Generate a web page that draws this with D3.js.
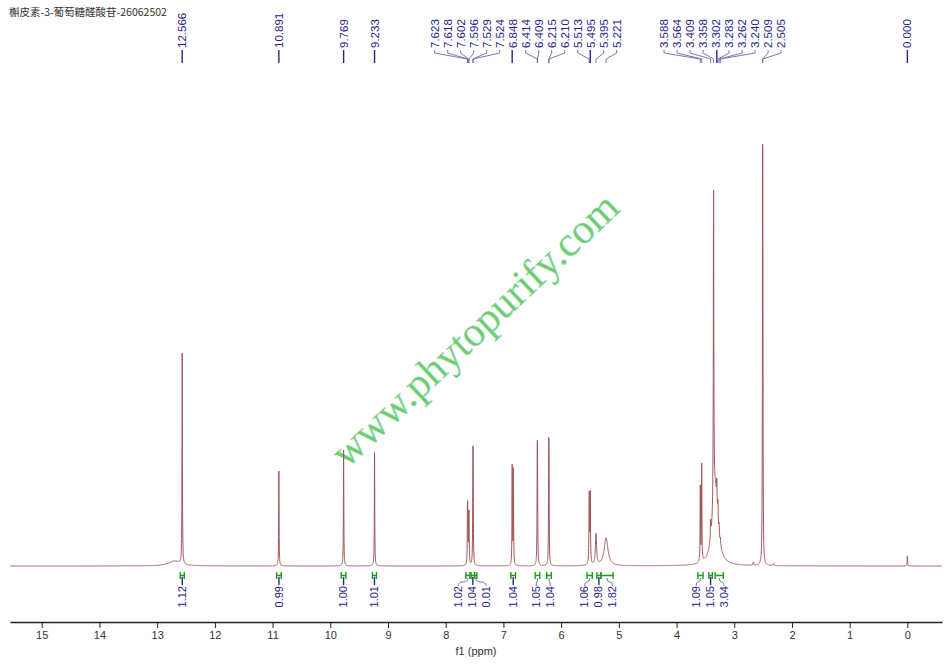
<!DOCTYPE html>
<html><head><meta charset="utf-8">
<script src="https://cdn.jsdelivr.net/npm/d3@7"></script>
<style>body{margin:0;background:#fff}svg{display:block}</style>
</head><body>
<script>
// ---------- data ----------
const title = "槲皮素-3-葡萄糖醛酸苷-26062502";
// labelled peak positions (ppm)
const peakLabels = [12.566, 10.891, 9.769, 9.233, 7.623, 7.618, 7.602, 7.596, 7.529, 7.524,
  6.848, 6.414, 6.409, 6.215, 6.210, 5.513, 5.495, 5.395, 5.221,
  3.588, 3.564, 3.409, 3.358, 3.302, 3.283, 3.262, 3.240, 2.509, 2.505, 0.000];
// spectral lines: position (ppm), intensity, half width (ppm)
const linePpm    = [12.566, 12.70, 10.891, 9.769, 9.233, 7.623, 7.618, 7.602, 7.596, 7.529, 7.524,
  6.848, 6.827, 6.414, 6.409, 6.215, 6.210, 5.513, 5.495, 5.395, 5.221,
  3.588, 3.564, 3.409, 3.358, 3.33, 3.302, 3.283, 3.262, 3.240, 2.67, 2.509, 2.505, 2.32, 0.000];
const lineHeight = [214, 5, 95, 116, 115, 43, 43, 39, 39, 83, 83,
  100, 96, 87, 87, 89, 89, 70, 70, 31, 28,
  76, 98, 18, 313, 78, 22, 18, 10, 6, 3, 264, 264, 2, 10];
const lineWidth  = [0.004, 0.12, 0.004, 0.004, 0.004, 0.004, 0.004, 0.004, 0.004, 0.004, 0.004,
  0.004, 0.004, 0.004, 0.004, 0.004, 0.004, 0.005, 0.005, 0.012, 0.04,
  0.004, 0.004, 0.006, 0.005, 0.055, 0.005, 0.005, 0.005, 0.005, 0.008, 0.004, 0.004, 0.008, 0.004];
// integrals
const intFrom  = [12.60, 10.93, 9.81, 9.27, 7.65, 7.56, 7.50, 6.87, 6.45, 6.25, 5.55, 5.38, 5.31, 3.63, 3.44, 3.33];
const intTo    = [12.53, 10.85, 9.73, 9.20, 7.58, 7.50, 7.46, 6.79, 6.37, 6.17, 5.46, 5.31, 5.10, 3.54, 3.38, 3.19];
const intValue = [1.12, 0.99, 1.00, 1.01, 1.02, 1.04, 0.01, 1.04, 1.05, 1.04, 1.06, 0.98, 1.82, 1.09, 1.05, 3.04];
// axis
const majorTicks = d3.range(0, 16, 1);
const minorTicks = d3.range(-0.5, 15.6, 1);
const axisTitle = "f1 (ppm)";
const watermark = "www.phytopurify.com";

// ---------- layout ----------
const W = 950, H = 665;
const svg = d3.select("body").append("svg").attr("width", W).attr("height", H)
  .style("font-family", "'Liberation Sans', Arial, sans-serif");
const x = d3.scaleLinear().domain([15.55, -0.6]).range([10, 942]);
const y = d3.scaleLinear().domain([0, 423]).range([566, 143]);
const axisY = 622;

// watermark
svg.append("text").attr("transform", "translate(347,469) rotate(-43.3)")
  .attr("font-family", "'Liberation Serif', 'Times New Roman', serif")
  .attr("font-size", 42).attr("fill", "#6fcd6f").attr("stroke", "#9fe3c8").attr("stroke-width", 0.4)
  .text(watermark);

// title
svg.append("text").attr("x", 9).attr("y", 16).attr("font-size", 10.5)
  .attr("font-family", "'Noto Sans CJK SC', sans-serif").attr("fill", "#333").text(title);

// spectrum
const step = 0.0015;
const pts = d3.range(15.55, -0.6, -step).map(p => {
  let v = 0;
  for (let i = 0; i < linePpm.length; i++) {
    const d = (p - linePpm[i]) / lineWidth[i];
    v += lineHeight[i] / (1 + d * d);
  }
  return [p, v];
});
svg.append("path").datum(pts)
  .attr("d", d3.line().x(d => x(d[0])).y(d => y(d[1])))
  .attr("fill", "none").attr("stroke", "#a05656").attr("stroke-width", 1);

// label spreading (least squares with minimum gap, pool adjacent violators)
function spread(ideal, gap) {
  const yv = ideal.map((v, i) => v - gap * i);
  const blocks = [];
  yv.forEach((v, i) => {
    blocks.push({sum: v, n: 1, start: i});
    while (blocks.length > 1) {
      const b = blocks[blocks.length - 1], a = blocks[blocks.length - 2];
      if (a.sum / a.n > b.sum / b.n) { a.sum += b.sum; a.n += b.n; blocks.pop(); } else break;
    }
  });
  const out = [];
  blocks.forEach(b => { for (let k = 0; k < b.n; k++) out.push(b.sum / b.n + gap * (b.start + k)); });
  return out;
}

// peak labels
const labelColor = "#25258f";
const idealTop = peakLabels.map(p => x(p));
const posTop = spread(idealTop, 13);
const gTop = svg.append("g");
peakLabels.forEach((p, i) => {
  const lx = posTop[i], px = idealTop[i];
  gTop.append("text").attr("transform", `translate(${lx},48) rotate(-90)`)
    .attr("dy", "0.35em").attr("font-size", 11.5).attr("fill", labelColor)
    .text(d3.format(".3f")(p));
  gTop.append("path")
    .attr("d", Math.abs(lx - px) < 0.8 ? `M${px},50V63` : `M${lx},50V53L${px},59V63`)
    .attr("fill", "none").attr("stroke", Math.abs(lx - px) < 0.8 ? labelColor : "#6a6aaa")
    .attr("stroke-width", Math.abs(lx - px) < 0.8 ? 1.4 : 0.9);
});

// integrals
const gInt = svg.append("g");
const markC = intFrom.map((f, i) => (x(f) + x(intTo[i])) / 2);
const posInt = spread(markC, 14);
intValue.forEach((v, i) => {
  const x1 = x(intFrom[i]), x2 = x(intTo[i]);
  gInt.append("path").attr("d", `M${x1},572V579M${x1},575.5H${x2}M${x2},572V579`)
    .attr("fill", "none").attr("stroke", "#1f9a1f").attr("stroke-width", 1.4);
  const lx = posInt[i], mx = markC[i];
  const straight = Math.abs(lx - mx) < 0.8;
  gInt.append("path")
    .attr("d", straight ? `M${mx},577V585` : `M${mx},578Q${mx},582 ${(mx + lx) / 2},582Q${lx},582 ${lx},586`)
    .attr("fill", "none").attr("stroke", straight ? labelColor : "#6a6aaa")
    .attr("stroke-width", straight ? 1.4 : 0.9);
  gInt.append("text").attr("transform", `translate(${lx},586) rotate(-90)`)
    .attr("dy", "0.35em").attr("text-anchor", "end").attr("font-size", 11).attr("fill", labelColor)
    .text(d3.format(".2f")(v));
});

// axis
const narrow = "'Liberation Sans Narrow', 'Liberation Sans', Arial, sans-serif";
const gAx = svg.append("g").attr("transform", `translate(0,${axisY})`);
gAx.call(d3.axisBottom(x).tickValues(minorTicks).tickSize(3).tickSizeOuter(0).tickFormat(""));
gAx.call(d3.axisBottom(x).tickValues(majorTicks).tickSize(6).tickPadding(3).tickSizeOuter(0).tickFormat(d3.format("d")));
gAx.selectAll("path.domain").attr("stroke", "#222").attr("stroke-width", 1.3);
gAx.selectAll(".tick line").attr("stroke", "#222").attr("stroke-width", 1);
gAx.selectAll("text").attr("font-family", narrow).attr("font-size", 11).attr("fill", "#333");
svg.append("text").attr("x", (x.range()[0] + x.range()[1]) / 2).attr("y", 655)
  .attr("text-anchor", "middle").attr("font-family", narrow).attr("font-size", 11).attr("fill", "#333")
  .text(axisTitle);
</script>
</body></html>
